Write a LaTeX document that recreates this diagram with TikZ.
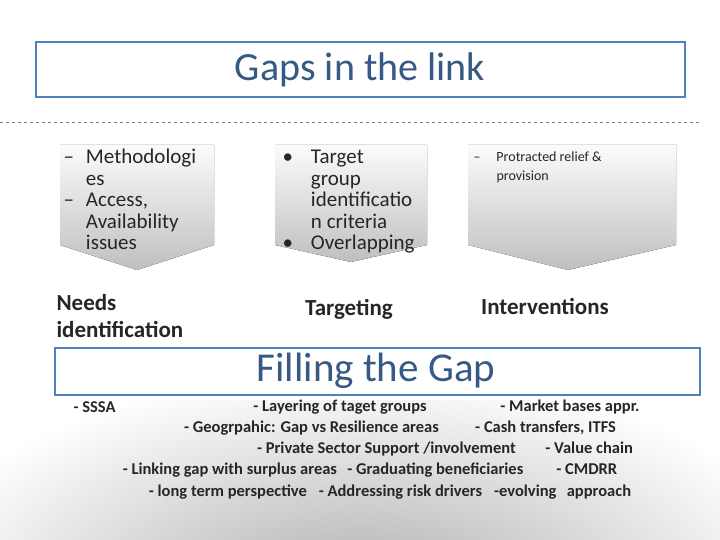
\documentclass[tikz,border=0pt]{standalone}
\usepackage{fontspec}
\setmainfont{Carlito}
\usetikzlibrary{positioning}
\definecolor{boxblue}{RGB}{79,129,189}
\tikzset{
  framebox/.style={draw=boxblue, line width=1.5pt},
  chevron/.style={top color=gray!3, bottom color=gray!50, draw=none},
  head/.style={font=\fontsize{23}{27}\selectfont\bfseries, text=black!85},
  listtext/.style={font=\fontsize{21}{21.5}\selectfont, align=left, anchor=north west, text=black!85},
  line/.style={font=\fontsize{16.5}{18}\selectfont\bfseries, text=black!85}
}
\begin{document}
\begin{tikzpicture}[x=1pt,y=-1pt]
\useasboundingbox (0,0) rectangle (720,540);
% bottom glow
\shade[inner color=gray!65, outer color=white] (360,600) ellipse (460 and 230);
\fill[white] (0,0) rectangle (720,400);
% title
\draw[framebox] (36,42) rectangle (685,97);
\node (title) at (360,70) {\fontsize{40}{44}\selectfont\color{boxblue!70!black}Gaps in the link};
\draw[dashed, gray] (0,122) -- (700,122);
% chevrons
\fill[chevron] (60,145) -- (214,145) -- (214,245) -- (137,270) -- (60,245) -- cycle;
\fill[chevron] (275,145) -- (427,145) -- (427,245) -- (351,262) -- (275,245) -- cycle;
\fill[chevron] (468,145) -- (676,145) -- (676,245) -- (568,270) -- (468,245) -- cycle;
\node[listtext] (needs) at (60,145) {\begin{tabular}{@{}l@{\hspace{12pt}}l@{}}
-- & Methodologi\\ & es\\ -- & Access,\\ & Availability\\ & issues\end{tabular}};
\node[listtext] (target) at (279,145) {\begin{tabular}{@{}l@{\hspace{18pt}}l@{}}
\textbullet & Target\\ & group\\ & identificatio\\ & n criteria\\ \textbullet & Overlapping\end{tabular}};
\node[listtext, font=\fontsize{14}{19}\selectfont] (relief) at (470,145) {\begin{tabular}{@{}l@{\hspace{16pt}}l@{}}
-- & Protracted relief \&\\ & provision\end{tabular}};
% labels
\node[head, align=left, anchor=west] (needlab) at (53,316) {Needs\\identification};
\node[head] (targlab) at (349,309) {Targeting};
\node[head] (intlab) at (545,306) {Interventions};
% filling the gap
\draw[framebox, fill=white] (55,348) rectangle (700,395);
\node (fill) at (376,371) {\fontsize{41}{44}\selectfont\color{boxblue!70!black}Filling the Gap};
% bottom lines
\node[line, anchor=west] (l0) at (70,407) {- SSSA};
\node[line] (l1a) at (340,407) {- Layering of taget groups};
\node[line] (l1b) at (570,407) {- Market bases appr.};
\node[line] (l2) at (400,428) {- Geogrpahic: Gap vs Resilience areas\hspace{2.2em}- Cash transfers, ITFS};
\node[line] (l3) at (445,449) {- Private Sector Support /involvement\hspace{1.8em}- Value chain};
\node[line] (l4) at (370,470) {- Linking gap with surplus areas\hspace{0.4em} - Graduating beneficiaries\hspace{2em}- CMDRR};
\node[line] (l5) at (390,492) {- long term perspective\hspace{0.5em} - Addressing risk drivers\hspace{0.5em} -evolving\hspace{0.4em} approach};
\end{tikzpicture}
\end{document}
